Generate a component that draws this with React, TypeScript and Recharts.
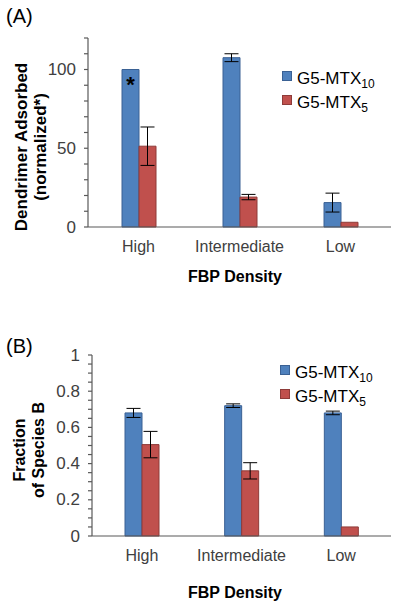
import { Bar, BarChart, ErrorBar, LabelList, Legend, XAxis, YAxis } from "recharts";

const categories = ["High", "Intermediate", "Low"];
const seriesNames = ["G5-MTX", "G5-MTX"];
const seriesSubscripts = ["10", "5"];

// panel A: dendrimer adsorbed (normalized)
const adsorbedMtx10 = [100, 107.5, 15.5];
const adsorbedMtx10Err = [0, 2.5, 6];
const adsorbedMtx5 = [51.3, 19, 3];
const adsorbedMtx5Err = [12.2, 1.7, 0];
const adsorbedMarks = ["*", "", ""];
const adsorbedTicks = [0, 10, 20, 30, 40, 50, 60, 70, 80, 90, 100, 110, 120];
const adsorbedTickLabels = [0, 50, 100];

// panel B: fraction of species B
const fractionMtx10 = [0.68, 0.72, 0.68];
const fractionMtx10Err = [0.025, 0.01, 0.01];
const fractionMtx5 = [0.505, 0.36, 0.05];
const fractionMtx5Err = [0.073, 0.045, 0];
const fractionMarks = ["", "", ""];
const fractionTicks = [
  0, 0.05, 0.1, 0.15, 0.2, 0.25, 0.3, 0.35, 0.4, 0.45, 0.5, 0.55, 0.6, 0.65, 0.7, 0.75, 0.8,
  0.85, 0.9, 0.95, 1,
];
const fractionTickLabels = [0, 0.2, 0.4, 0.6, 0.8, 1];

const FONT = "'Liberation Sans', Arial, sans-serif";
const BLUE = "#4F81BD";
const BLUE_EDGE = "#3A6194";
const RED = "#C0504D";
const RED_EDGE = "#8E3B39";
const AXIS = "#595959";
const TICK_TEXT = "#404040";

function buildRows(a: number[], aErr: number[], b: number[], bErr: number[], marks: string[]) {
  return categories.map((name, i) => ({
    name,
    s10: a[i],
    s10Err: aErr[i],
    s5: b[i],
    s5Err: bErr[i],
    mark: marks[i],
  }));
}

function LegendBox() {
  const colors = [
    [BLUE, BLUE_EDGE],
    [RED, RED_EDGE],
  ];
  return (
    <div style={{ position: "relative", width: 110, height: 46, fontFamily: FONT }}>
      {seriesNames.map((n, i) => (
        <div key={i} style={{ position: "absolute", left: 0, top: i * 23.5, height: 23 }}>
          <div
            style={{
              position: "absolute",
              left: 0,
              top: 0,
              width: 8,
              height: 8,
              background: colors[i][0],
              border: `1px solid ${colors[i][1]}`,
            }}
          />
          <div
            style={{
              position: "absolute",
              left: 15,
              top: -1,
              fontSize: 17,
              lineHeight: 1,
              whiteSpace: "nowrap",
              color: "#000",
            }}
          >
            {n}
            <span style={{ fontSize: 12, position: "relative", top: 4 }}>{seriesSubscripts[i]}</span>
          </div>
        </div>
      ))}
    </div>
  );
}

type PanelProps = {
  letter: string;
  top: number;
  height: number;
  marginTop: number;
  yAxisWidth: number;
  xAxisHeight: number;
  marginRight: number;
  rows: ReturnType<typeof buildRows>;
  domain: [number, number];
  ticks: number[];
  tickLabels: number[];
  yLabel: [string, string];
  yLabelX: [number, number];
  yLabelSize: number;
  yLabelCy: number;
  xLabelY: number;
  legendLeft: number;
  legendTop: number;
  letterTop: number;
};

function Panel(p: PanelProps) {
  const plotBottom = p.height - p.xAxisHeight;
  return (
    <div style={{ position: "absolute", left: 0, top: p.top, width: 400, height: p.height }}>
      <div
        style={{
          position: "absolute",
          left: 6,
          top: p.letterTop,
          fontFamily: FONT,
          fontSize: 20,
          lineHeight: 1,
          color: "#000",
        }}
      >
        {p.letter}
      </div>
      <BarChart
        width={400}
        height={p.height}
        data={p.rows}
        margin={{ top: p.marginTop, right: p.marginRight, left: 0, bottom: 0 }}
        barGap={0}
        barSize={17}
      >
        <XAxis
          dataKey="name"
          height={p.xAxisHeight}
          tickLine={false}
          tickSize={0}
          tickMargin={0}
          axisLine={{ stroke: AXIS, strokeWidth: 1.2 }}
          interval={0}
          tick={(t: any) => (
            <text
              x={t.x}
              y={t.y + 25}
              textAnchor="middle"
              fill={TICK_TEXT}
              fontSize={16}
              fontFamily={FONT}
            >
              {t.payload.value}
            </text>
          )}
          label={{
            content: () => (
              <text
                x={235}
                y={p.xLabelY}
                textAnchor="middle"
                fontSize={16}
                fontWeight="bold"
                fontFamily={FONT}
                fill="#000"
              >
                FBP Density
              </text>
            ),
          }}
        />
        <YAxis
          width={p.yAxisWidth}
          domain={p.domain}
          ticks={p.ticks}
          interval={0}
          tickSize={4}
          tickMargin={0}
          tickLine={{ stroke: AXIS, strokeWidth: 1.2 }}
          axisLine={{ stroke: AXIS, strokeWidth: 1.2 }}
          tick={(t: any) =>
            p.tickLabels.includes(t.payload.value) ? (
              <text
                x={t.x - 8}
                y={t.y}
                textAnchor="end"
                dominantBaseline="central"
                fill={TICK_TEXT}
                fontSize={17}
                fontFamily={FONT}
              >
                {t.payload.value}
              </text>
            ) : (
              <g />
            )
          }
          label={{
            content: () => (
              <g fontFamily={FONT} fontWeight="bold" fontSize={p.yLabelSize} fill="#000">
                {p.yLabel.map((line, i) => (
                  <text
                    key={i}
                    x={p.yLabelX[i]}
                    y={p.yLabelCy}
                    textAnchor="middle"
                    dominantBaseline="central"
                    transform={`rotate(-90, ${p.yLabelX[i]}, ${p.yLabelCy})`}
                  >
                    {line}
                  </text>
                ))}
              </g>
            ),
          }}
        />
        <Legend
          layout="vertical"
          align="center"
          verticalAlign="middle"
          wrapperStyle={{ left: p.legendLeft, top: p.legendTop, width: 110 }}
          content={() => <LegendBox />}
        />
        <Bar dataKey="s10" fill={BLUE} stroke={BLUE_EDGE} strokeWidth={1} isAnimationActive={false}>
          <ErrorBar dataKey="s10Err" width={7} stroke="#000" strokeWidth={1} direction="y" />
          <LabelList
            dataKey="mark"
            position="insideTop"
            offset={7}
            fill="#000"
            fontSize={22}
            fontWeight="bold"
            fontFamily={FONT}
          />
        </Bar>
        <Bar dataKey="s5" fill={RED} stroke={RED_EDGE} strokeWidth={1} isAnimationActive={false}>
          <ErrorBar dataKey="s5Err" width={7} stroke="#000" strokeWidth={1} direction="y" />
        </Bar>
      </BarChart>
      <span style={{ display: "none" }}>{plotBottom}</span>
    </div>
  );
}

export default function App() {
  const rowsA = buildRows(adsorbedMtx10, adsorbedMtx10Err, adsorbedMtx5, adsorbedMtx5Err, adsorbedMarks);
  const rowsB = buildRows(fractionMtx10, fractionMtx10Err, fractionMtx5, fractionMtx5Err, fractionMarks);
  return (
    <div
      style={{ position: "absolute", left: 0, top: 0, width: 400, height: 612, background: "#fff" }}
    >
      <Panel
        letter="(A)"
        top={0}
        height={300}
        marginTop={38}
        yAxisWidth={88}
        xAxisHeight={73}
        marginRight={9}
        rows={rowsA}
        domain={[0, 120]}
        ticks={adsorbedTicks}
        tickLabels={adsorbedTickLabels}
        yLabel={["Dendrimer Adsorbed", "(normalized*)"]}
        yLabelX={[21, 40]}
        yLabelSize={17}
        yLabelCy={147}
        xLabelY={282}
        legendLeft={282}
        legendTop={71}
        letterTop={6}
      />
      <Panel
        letter="(B)"
        top={300}
        height={312}
        marginTop={55}
        yAxisWidth={92}
        xAxisHeight={76}
        marginRight={9}
        rows={rowsB}
        domain={[0, 1]}
        ticks={fractionTicks}
        tickLabels={fractionTickLabels}
        yLabel={["Fraction", "of Species B"]}
        yLabelX={[19, 38]}
        yLabelSize={16}
        yLabelCy={150}
        xLabelY={298}
        legendLeft={280}
        legendTop={65}
        letterTop={36}
      />
    </div>
  );
}
